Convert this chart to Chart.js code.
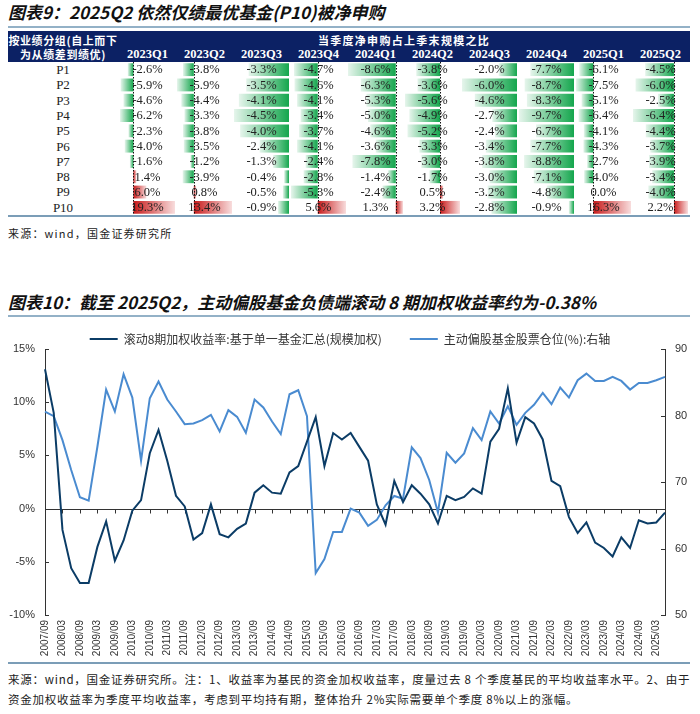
<!DOCTYPE html>
<html>
<head>
<meta charset="utf-8">
<script src="https://cdn.jsdelivr.net/npm/chart.js@4.4.1/dist/chart.umd.min.js"></script>
<style>
html, body { margin: 0; padding: 0; background: #fff; }
#page { position: relative; width: 700px; height: 714px; overflow: hidden; font-family: "Noto Sans CJK SC", sans-serif; color: #222; }
.title { position: absolute; left: 8px; font-size: 17px; line-height: 20px; font-weight: 700; font-style: italic; color: #111; white-space: nowrap; }
.rule { position: absolute; left: 8px; width: 682px; height: 2px; background: #93b1c7; }
.rule2 { position: absolute; left: 8px; width: 682px; height: 2px; background: #7b9db7; }
.src { position: absolute; left: 8px; font-size: 11px; line-height: 16px; letter-spacing: 1.2px; white-space: nowrap; }
#thead { position: absolute; left: 8px; top: 31px; width: 682px; height: 31px; background: #0c2164; }
.h { position: absolute; color: #fff; font-weight: 700; white-space: nowrap; text-align: center; }
.hq { font-family: "Liberation Serif", serif; font-size: 12.5px; line-height: 15px; top: 47px; width: 57px; }
.rowlab { position: absolute; left: 8px; width: 110px; text-align: center; font-family: "Liberation Serif", serif; font-size: 13px; color: #222; }
.col { position: absolute; top: 62px; }
#chartBox { position: absolute; left: 0; top: 322px; width: 700px; height: 340px; }
.note { position: absolute; left: 8px; font-size: 11.5px; line-height: 16px; letter-spacing: 0.75px; white-space: nowrap; }
</style>
</head>
<body>
<div id="page">
  <div class="title" style="top:2px">图表9：2025Q2 依然仅绩最优基金(P10)被净申购</div>
  <div class="rule" style="top:26px"></div>
  <div id="thead"></div>
  <div class="h" style="left:8px;width:110px;top:32px;line-height:16px;font-size:11px;letter-spacing:0.6px">按业绩分组(自上而下</div>
  <div class="h" style="left:8px;width:110px;top:47px;line-height:15px;font-size:11px;letter-spacing:0.6px">为从绩差到绩优)</div>
  <div class="h" style="left:119px;width:570px;top:32px;line-height:16px;font-size:11px;letter-spacing:1.3px">当季度净申购占上季末规模之比</div>
  <div id="table"></div>
  <div class="rule2" style="top:215px"></div>
  <div class="src" style="top:225px">来源：wind，国金证券研究所</div>

  <div class="title" style="top:292px">图表10：截至 2025Q2，主动偏股基金负债端滚动 8 期加权收益率约为-0.38%</div>
  <div class="rule" style="top:315px"></div>
  <div id="chartBox"><canvas id="lineChart" width="700" height="340"></canvas></div>
  <div class="rule2" style="top:662px"></div>
  <div class="note" style="top:671px">来源：wind，国金证券研究所。注：1、收益率为基民的资金加权收益率，度量过去 8 个季度基民的平均收益率水平。2、由于</div>
  <div class="note" style="top:691px">资金加权收益率为季度平均收益率，考虑到平均持有期，整体抬升 2%实际需要单个季度 8%以上的涨幅。</div>
</div>

<script>
// ---- table: net subscription / prior-quarter size, by performance group ----
const quarters = ['2023Q1', '2023Q2', '2023Q3', '2023Q4', '2024Q1', '2024Q2', '2024Q3', '2024Q4', '2025Q1', '2025Q2'];
const groups = ['P1', 'P2', 'P3', 'P4', 'P5', 'P6', 'P7', 'P8', 'P9', 'P10'];

const flow2023Q1 = [-2.6, -5.9, -4.6, -6.2, -2.3, -4.0, -1.6, 1.4, 6.0, 19.3];
const flow2023Q2 = [-3.8, -5.9, -4.4, -3.3, -3.8, -3.5, -1.2, -3.9, 0.8, 13.4];
const flow2023Q3 = [-3.3, -3.5, -4.1, -4.5, -4.0, -2.4, -1.3, -0.4, -0.5, -0.9];
const flow2023Q4 = [-4.7, -4.6, -4.1, -3.4, -3.7, -4.1, -2.4, -2.8, -5.3, 5.6];
const flow2024Q1 = [-8.6, -6.3, -5.3, -5.0, -4.6, -3.6, -7.8, -1.4, -2.4, 1.3];
const flow2024Q2 = [-3.8, -3.6, -5.6, -4.9, -5.2, -3.3, -3.0, -1.7, 0.5, 3.2];
const flow2024Q3 = [-2.0, -6.0, -4.6, -2.7, -2.4, -3.4, -3.8, -3.0, -3.2, -2.8];
const flow2024Q4 = [-7.7, -8.7, -8.3, -9.7, -6.7, -7.7, -8.8, -7.1, -4.8, -0.9];
const flow2025Q1 = [-6.1, -7.5, -5.1, -6.4, -4.1, -4.3, -2.7, -4.0, 0.0, 16.3];
const flow2025Q2 = [-4.5, -6.0, -2.5, -6.4, -4.4, -3.7, -3.9, -3.4, -4.0, 2.2];
const flowCols = [flow2023Q1, flow2023Q2, flow2023Q3, flow2023Q4, flow2024Q1,
                  flow2024Q2, flow2024Q3, flow2024Q4, flow2025Q1, flow2025Q2];

// ---- line chart: rolling 8-quarter weighted return vs stock position ----
const quarterLabels = [
  '2007/09', '2007/12',
  '2008/03', '2008/06', '2008/09', '2008/12',
  '2009/03', '2009/06', '2009/09', '2009/12',
  '2010/03', '2010/06', '2010/09', '2010/12',
  '2011/03', '2011/06', '2011/09', '2011/12',
  '2012/03', '2012/06', '2012/09', '2012/12',
  '2013/03', '2013/06', '2013/09', '2013/12',
  '2014/03', '2014/06', '2014/09', '2014/12',
  '2015/03', '2015/06', '2015/09', '2015/12',
  '2016/03', '2016/06', '2016/09', '2016/12',
  '2017/03', '2017/06', '2017/09', '2017/12',
  '2018/03', '2018/06', '2018/09', '2018/12',
  '2019/03', '2019/06', '2019/09', '2019/12',
  '2020/03', '2020/06', '2020/09', '2020/12',
  '2021/03', '2021/06', '2021/09', '2021/12',
  '2022/03', '2022/06', '2022/09', '2022/12',
  '2023/03', '2023/06', '2023/09', '2023/12',
  '2024/03', '2024/06', '2024/09', '2024/12',
  '2025/03', '2025/06'
];
const weightedReturn = [
  13.1, 9.0,
  -2.0, -5.6, -7.0, -7.0,
  -3.6, -1.2, -4.9, -3.0,
  -0.2, 0.8, 5.2, 7.4,
  4.5, 1.2, 0.2, -2.9,
  -2.3, 0.4, -2.4, -2.7,
  -1.9, -1.4, 1.5, 2.2,
  1.5, 1.4, 3.4, 4.0,
  6.3, 8.6, 4.0, 7.1,
  6.5, 7.1, 5.8, 4.5,
  0.4, -1.5, 2.6, 0.6,
  2.2, 1.4, 0.4, -1.4,
  1.2, 0.8, 1.1, 1.9,
  1.4, 6.3, 7.5, 11.3,
  6.2, 8.6, 8.0, 6.5,
  2.6, 2.1, -0.8, -2.3,
  -1.3, -3.2, -3.7, -4.5,
  -2.7, -3.7, -1.1, -1.4,
  -1.3, -0.38
];
const stockPosition = [
  80.6, 79.9,
  76.3, 71.8, 67.7, 67.2,
  75.3, 83.9, 80.6, 86.2,
  82.7, 73.2, 82.6, 85.1,
  82.4, 80.6, 78.7, 78.8,
  79.3, 80.1, 77.6, 80.8,
  79.8, 77.4, 82.4, 81.2,
  79.1, 77.2, 83.2, 83.8,
  79.9, 56.3, 58.4, 62.5,
  62.5, 66.0, 65.4, 63.4,
  64.3, 66.5, 67.9, 67.5,
  75.2, 73.6, 70.3, 65.4,
  74.4, 72.9, 74.3, 78.1,
  76.3, 80.6, 78.8, 81.4,
  78.6, 80.4, 81.6, 83.4,
  81.7, 84.2, 82.7, 85.3,
  86.3, 85.2, 85.2, 85.8,
  85.2, 83.9, 84.9, 84.9,
  85.3, 85.8
];

const GREEN = '#14a64d', GREEN_FADE = '#e6f5ec';
const RED = '#c81b1b', RED_FADE = '#f8dddd';
const DARK = '#0b3c66', LIGHT = '#4a8bd0';

// excel style data bar: solid at the zero axis, fading toward the tip
function barFill(ctx) {
  const v = ctx.raw;
  const solid = v < 0 ? GREEN : RED;
  const fade = v < 0 ? GREEN_FADE : RED_FADE;
  const xs = ctx.chart.scales.x;
  if (!xs || ctx.type !== 'data') return solid;
  const x0 = xs.getPixelForValue(0);
  const x1 = xs.getPixelForValue(v);
  if (!isFinite(x0) || !isFinite(x1) || x0 === x1) return solid;
  const g = ctx.chart.ctx.createLinearGradient(x0, 0, x1, 0);
  g.addColorStop(0, solid);
  g.addColorStop(1, fade);
  return g;
}

const cellText = {
  id: 'cellText',
  afterDatasetsDraw(chart) {
    const c = chart.ctx;
    const xs = chart.scales.x;
    const area = chart.chartArea;
    c.save();
    if (xs.min < 0 && xs.max > 0) {
      const zx = Math.round(xs.getPixelForValue(0)) + 0.5;
      c.strokeStyle = '#111';
      c.lineWidth = 1;
      c.setLineDash([1.5, 1.5]);
      c.beginPath();
      c.moveTo(zx, 0);
      c.lineTo(zx, chart.height);
      c.stroke();
      c.setLineDash([]);
    }
    c.font = '12.5px "Liberation Serif"';
    c.fillStyle = '#222';
    c.textAlign = 'center';
    c.textBaseline = 'middle';
    const vals = chart.data.datasets[0].data;
    chart.getDatasetMeta(0).data.forEach((bar, i) => {
      c.fillText(vals[i].toFixed(1) + '%', (area.left + area.right) / 2, bar.y + 0.5);
    });
    c.restore();
  }
};

const table = document.getElementById('table');
groups.forEach((g, i) => {
  const d = document.createElement('div');
  d.className = 'rowlab';
  d.style.top = (62 + i * 15.3) + 'px';
  d.style.height = d.style.lineHeight = '15.3px';
  d.textContent = g;
  table.appendChild(d);
});

quarters.forEach((q, i) => {
  const h = document.createElement('div');
  h.className = 'h hq';
  h.style.left = (119 + i * 57) + 'px';
  h.textContent = q;
  table.appendChild(h);

  const vals = flowCols[i];
  const cv = document.createElement('canvas');
  cv.className = 'col';
  cv.width = 57;
  cv.height = 153;
  cv.style.left = (119 + i * 57) + 'px';
  table.appendChild(cv);

  new Chart(cv, {
    type: 'bar',
    data: {
      labels: groups,
      datasets: [{
        data: vals,
        backgroundColor: barFill,
        borderWidth: 0,
        barPercentage: 0.84,
        categoryPercentage: 1
      }]
    },
    options: {
      indexAxis: 'y',
      responsive: false,
      animation: false,
      events: [],
      layout: { padding: { left: 1, right: 1, top: 0, bottom: 0 } },
      plugins: { legend: { display: false }, tooltip: { enabled: false } },
      scales: {
        x: { display: false, min: Math.min(0, ...vals), max: Math.max(0, ...vals) },
        y: { display: false }
      }
    },
    plugins: [cellText]
  });
});

// zero line with ticks, and inward ticks on both value axes
const axisMarks = {
  id: 'axisMarks',
  beforeDatasetsDraw(chart) {
    const { ctx, chartArea: a, scales } = chart;
    const yl = scales.y, yr = scales.y1, xs = scales.x;
    const y0 = Math.round(yl.getPixelForValue(0)) + 0.5;
    ctx.save();
    ctx.strokeStyle = '#333';
    ctx.lineWidth = 1;
    ctx.beginPath();
    ctx.moveTo(a.left, y0);
    ctx.lineTo(a.right, y0);
    quarterLabels.forEach((lab, i) => {
      if (!/\/(03|09)$/.test(lab)) return;
      const px = Math.round(xs.getPixelForValue(i)) + 0.5;
      ctx.moveTo(px, y0);
      ctx.lineTo(px, y0 + 4);
    });
    yl.ticks.forEach(t => {
      const py = Math.round(yl.getPixelForValue(t.value)) + 0.5;
      ctx.moveTo(a.left, py);
      ctx.lineTo(a.left + 4, py);
    });
    yr.ticks.forEach(t => {
      const py = Math.round(yr.getPixelForValue(t.value)) + 0.5;
      ctx.moveTo(a.right, py);
      ctx.lineTo(a.right - 4, py);
    });
    ctx.stroke();
    ctx.restore();
  }
};

// shrink the fixed gap chart.js puts under a top legend
const legendTrim = {
  id: 'legendTrim',
  afterInit(chart) {
    const lg = chart.legend;
    const fit = lg.fit;
    lg.fit = function () { fit.call(this); this.height -= 6; };
  }
};

const tickFont = { family: 'Liberation Sans', size: 11 };

new Chart(document.getElementById('lineChart'), {
  type: 'line',
  data: {
    labels: quarterLabels,
    datasets: [
      {
        label: '滚动8期加权收益率:基于单一基金汇总(规模加权)　　',
        data: weightedReturn,
        yAxisID: 'y',
        borderColor: DARK,
        backgroundColor: DARK,
        borderWidth: 2,
        pointRadius: 0,
        tension: 0
      },
      {
        label: '主动偏股基金股票仓位(%):右轴',
        data: stockPosition,
        yAxisID: 'y1',
        borderColor: LIGHT,
        backgroundColor: LIGHT,
        borderWidth: 2,
        pointRadius: 0,
        tension: 0
      }
    ]
  },
  options: {
    responsive: false,
    animation: false,
    events: [],
    layout: { padding: { top: 7, left: 0, right: 0, bottom: 0 } },
    plugins: {
      tooltip: { enabled: false },
      legend: {
        position: 'top',
        labels: {
          usePointStyle: true,
          pointStyle: 'line',
          pointStyleWidth: 28,
          padding: 4,
          color: '#333',
          font: { family: 'Noto Sans CJK SC', size: 12 }
        }
      }
    },
    scales: {
      x: {
        offset: false,
        grid: { display: false, drawTicks: false },
        border: { display: false },
        ticks: {
          autoSkip: false,
          maxRotation: 90,
          minRotation: 90,
          padding: 5,
          color: '#333',
          font: { family: 'Liberation Sans', size: 10 },
          callback: (v, i) => /\/(03|09)$/.test(quarterLabels[i]) ? quarterLabels[i] : ''
        },
        afterFit(s) { s.height = 47; }
      },
      y: {
        position: 'left',
        min: -10,
        max: 15,
        ticks: { stepSize: 5, padding: 10, color: '#333', font: tickFont, callback: v => v + '%' },
        grid: { display: false, drawTicks: false },
        border: { display: true, color: '#333', width: 1 },
        afterFit(s) { s.width = 45; }
      },
      y1: {
        position: 'right',
        min: 50,
        max: 90,
        ticks: { stepSize: 10, padding: 10, color: '#333', font: tickFont },
        grid: { display: false, drawTicks: false },
        border: { display: true, color: '#333', width: 1 },
        afterFit(s) { s.width = 35; }
      }
    }
  },
  plugins: [axisMarks, legendTrim]
});
</script>
</body>
</html>
